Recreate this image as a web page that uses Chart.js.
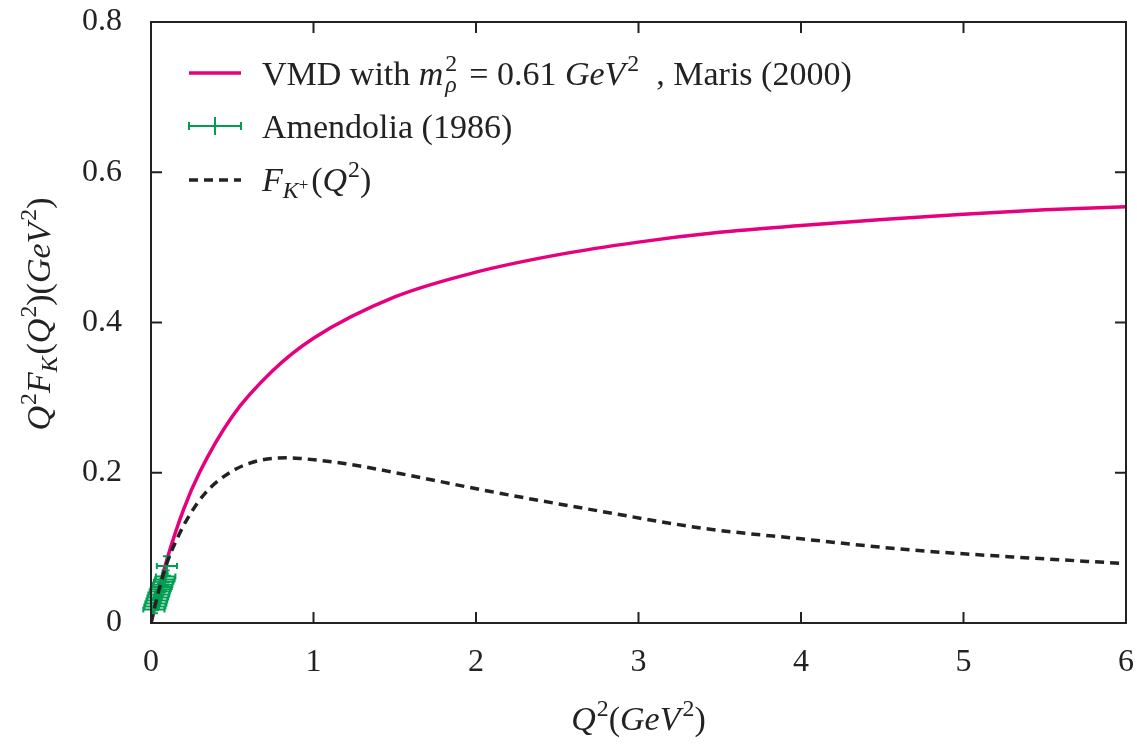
<!DOCTYPE html>
<html>
<head>
<meta charset="utf-8">
<script src="https://cdn.jsdelivr.net/npm/chart.js@4.4.1/dist/chart.umd.min.js"></script>
<style>
  html, body { margin: 0; padding: 0; background: #fff; }
  #wrap { width: 1137px; height: 745px; position: relative; }
</style>
</head>
<body>
<div id="wrap"><canvas id="kaonChart"></canvas></div>
<script>
// tick labels
var xTicks = [0, 1, 2, 3, 4, 5, 6];
var yTicks = [0, 0.2, 0.4, 0.6, 0.8];

// VMD curve, m_rho^2 = 0.61 GeV^2
var vmdQ2  = [0, 0.05, 0.1, 0.2, 0.3, 0.5, 0.75, 1, 1.5, 2, 2.5, 3, 3.5, 4, 4.5, 5, 5.5, 6];
var vmdVal = [0, 0.046, 0.086, 0.151, 0.201, 0.275, 0.336, 0.379, 0.434, 0.467, 0.490, 0.507, 0.520, 0.529, 0.537, 0.544, 0.550, 0.554];

// F_K+ curve (dashed)
var fkQ2  = [0, 0.05, 0.1, 0.16, 0.23, 0.33, 0.49, 0.66, 0.84, 0.92, 1.2, 1.53, 2.09, 2.76, 3.4, 4.0, 4.69, 5.3, 6];
var fkVal = [0, 0.045, 0.081, 0.112, 0.141, 0.172, 0.201, 0.216, 0.220, 0.219, 0.212, 0.199, 0.175, 0.149, 0.126, 0.112, 0.097, 0.088, 0.079];

// Amendolia (1986) points with errors
var amQ2     = [0.098, 0.090, 0.085, 0.078, 0.072, 0.066, 0.060, 0.054, 0.048, 0.042, 0.036, 0.030, 0.024, 0.018];
var amVal    = [0.076, 0.062, 0.058, 0.055, 0.051, 0.048, 0.045, 0.042, 0.038, 0.034, 0.030, 0.026, 0.022, 0.018];
var amQ2Err  = [0.062, 0.060, 0.060, 0.060, 0.060, 0.062, 0.062, 0.062, 0.064, 0.064, 0.064, 0.065, 0.065, 0.065];
var amValErr = [0.013, 0.008, 0.008, 0.007, 0.007, 0.007, 0.007, 0.006, 0.006, 0.006, 0.006, 0.006, 0.005, 0.005];

var pink = '#e6007e';
var green = '#009e52';
var ink = '#222222';
var serif = "'Liberation Serif', 'Times New Roman', serif";
var fontSize = 32;
var textSize = 34;

function pts(xs, ys) {
  var out = [];
  for (var i = 0; i < xs.length; i++) out.push({x: xs[i], y: ys[i]});
  return out;
}

// draw text pieces with italics, superscripts and subscripts
function richWidth(ctx, parts, size) {
  var w = 0;
  parts.forEach(function(p) {
    var s = p.s ? size * (p.s == 'subsup' ? 0.5 : 0.7) : size;
    ctx.font = (p.i ? 'italic ' : '') + s + 'px ' + serif;
    if (!p.stack) w += ctx.measureText(p.t).width + (p.gap || 0);
  });
  return w;
}
function drawRich(ctx, parts, x, y, size, align) {
  var w = richWidth(ctx, parts, size);
  var cx = align == 'center' ? x - w / 2 : x;
  ctx.textAlign = 'left';
  ctx.textBaseline = 'alphabetic';
  parts.forEach(function(p) {
    var s = size, dy = 0;
    if (p.s == 'sup') { s = size * 0.7; dy = -size * 0.42; }
    if (p.s == 'sub') { s = size * 0.7; dy = size * 0.22; }
    if (p.s == 'subsup') { s = size * 0.5; dy = -size * 0.02; }
    ctx.font = (p.i ? 'italic ' : '') + s + 'px ' + serif;
    ctx.fillText(p.t, cx + (p.pre || 0), y + dy);
    if (!p.stack) cx += ctx.measureText(p.t).width + (p.gap || 0);
  });
}

function errBar(ctx, x1, y1, x2, y2, cap, vertical) {
  ctx.beginPath();
  ctx.moveTo(x1, y1); ctx.lineTo(x2, y2);
  if (vertical) {
    ctx.moveTo(x1 - cap, y1); ctx.lineTo(x1 + cap, y1);
    ctx.moveTo(x2 - cap, y2); ctx.lineTo(x2 + cap, y2);
  } else {
    ctx.moveTo(x1, y1 - cap); ctx.lineTo(x1, y1 + cap);
    ctx.moveTo(x2, y2 - cap); ctx.lineTo(x2, y2 + cap);
  }
  ctx.stroke();
}

var errorBarPlugin = {
  id: 'errorBars',
  afterDatasetDraw: function(chart, args) {
    if (args.index !== 1) return;
    var ctx = chart.ctx, xs = chart.scales.x, ys = chart.scales.y;
    ctx.save();
    ctx.strokeStyle = green;
    ctx.lineWidth = 2;
    for (var i = 0; i < amQ2.length; i++) {
      var px = xs.getPixelForValue(amQ2[i]);
      var py = ys.getPixelForValue(amVal[i]);
      errBar(ctx, xs.getPixelForValue(amQ2[i] - amQ2Err[i]), py,
                  xs.getPixelForValue(amQ2[i] + amQ2Err[i]), py, 3, false);
      errBar(ctx, px, ys.getPixelForValue(amVal[i] - amValErr[i]),
                  px, ys.getPixelForValue(amVal[i] + amValErr[i]), 4, true);
    }
    ctx.restore();
  }
};

var framePlugin = {
  id: 'frame',
  afterDraw: function(chart) {
    var ctx = chart.ctx, a = chart.chartArea;
    var xs = chart.scales.x, ys = chart.scales.y;
    var tl = 11;
    ctx.save();
    ctx.strokeStyle = ink;
    ctx.lineWidth = 2;
    ctx.strokeRect(a.left, a.top, a.right - a.left, a.bottom - a.top);
    ctx.beginPath();
    xTicks.forEach(function(v) {
      var px = xs.getPixelForValue(v);
      ctx.moveTo(px, a.bottom); ctx.lineTo(px, a.bottom - tl);
      ctx.moveTo(px, a.top); ctx.lineTo(px, a.top + tl);
    });
    yTicks.forEach(function(v) {
      var py = ys.getPixelForValue(v);
      ctx.moveTo(a.left, py); ctx.lineTo(a.left + tl, py);
      ctx.moveTo(a.right, py); ctx.lineTo(a.right - tl, py);
    });
    ctx.stroke();

    // legend
    var lx1 = 189, lx2 = 241, tx = 262;
    var rows = [73, 126, 180];
    ctx.lineWidth = 3.5;
    ctx.strokeStyle = pink;
    ctx.beginPath(); ctx.moveTo(lx1, rows[0]); ctx.lineTo(lx2, rows[0]); ctx.stroke();
    ctx.strokeStyle = green;
    ctx.lineWidth = 2;
    errBar(ctx, lx1, rows[1], lx2, rows[1], 4, false);
    ctx.beginPath(); ctx.moveTo(215, rows[1] - 9); ctx.lineTo(215, rows[1] + 9); ctx.stroke();
    ctx.strokeStyle = ink;
    ctx.lineWidth = 3.5;
    ctx.setLineDash([9, 6]);
    ctx.beginPath(); ctx.moveTo(lx1, rows[2]); ctx.lineTo(lx2, rows[2]); ctx.stroke();
    ctx.setLineDash([]);

    ctx.fillStyle = ink;
    drawRich(ctx, [
      {t: 'VMD with '}, {t: 'm', i: true, gap: 2}, {t: '2', s: 'sup', stack: true}, {t: 'ρ', i: true, s: 'sub', gap: 4},
      {t: ' = 0.61 '}, {t: 'GeV', i: true, gap: 2}, {t: '2', s: 'sup'}, {t: '  , Maris (2000)'}
    ], tx, 85, textSize, 'left');
    drawRich(ctx, [{t: 'Amendolia (1986)'}], tx, 138, textSize, 'left');
    drawRich(ctx, [
      {t: 'F', i: true}, {t: 'K', i: true, s: 'sub'}, {t: '+', s: 'subsup', gap: 3},
      {t: '('}, {t: 'Q', i: true, gap: 1}, {t: '2', s: 'sup'}, {t: ')'}
    ], tx, 191, textSize, 'left');

    // axis titles
    drawRich(ctx, [
      {t: 'Q', i: true, gap: 1}, {t: '2', s: 'sup'}, {t: '('}, {t: 'GeV', i: true, gap: 2}, {t: '2', s: 'sup'}, {t: ')'}
    ], (a.left + a.right) / 2, 730, textSize, 'center');
    ctx.save();
    ctx.translate(50, 314);
    ctx.rotate(-Math.PI / 2);
    drawRich(ctx, [
      {t: 'Q', i: true, gap: 1}, {t: '2', s: 'sup'}, {t: 'F', i: true}, {t: 'K', i: true, s: 'sub', gap: 2},
      {t: '('}, {t: 'Q', i: true, gap: 1}, {t: '2', s: 'sup'}, {t: ')('}, {t: 'GeV', i: true, gap: 2}, {t: '2', s: 'sup'}, {t: ')'}
    ], 0, 0, textSize, 'center');
    ctx.restore();
    ctx.restore();
  }
};

Chart.defaults.font.family = serif;
Chart.defaults.color = ink;

new Chart(document.getElementById('kaonChart').getContext('2d'), {
  type: 'scatter',
  data: {
    datasets: [
      {
        label: 'VMD',
        data: pts(vmdQ2, vmdVal),
        showLine: true,
        borderColor: pink,
        borderWidth: 3.5,
        pointRadius: 0,
        cubicInterpolationMode: 'monotone',
        order: 3
      },
      {
        label: 'Amendolia (1986)',
        data: pts(amQ2, amVal),
        showLine: false,
        pointRadius: 0,
        borderColor: green,
        order: 2
      },
      {
        label: 'F_K+',
        data: pts(fkQ2, fkVal),
        showLine: true,
        borderColor: ink,
        borderWidth: 3.5,
        borderDash: [9, 6],
        pointRadius: 0,
        cubicInterpolationMode: 'monotone',
        order: 1
      }
    ]
  },
  options: {
    responsive: true,
    maintainAspectRatio: false,
    animation: false,
    layout: { padding: { left: 0, right: 11, top: 22, bottom: 0 } },
    plugins: { legend: { display: false }, tooltip: { enabled: false } },
    scales: {
      x: {
        type: 'linear', min: 0, max: 6,
        grid: { display: false, drawTicks: false },
        border: { display: false },
        afterBuildTicks: function(s) { s.ticks = xTicks.map(function(v) { return {value: v}; }); },
        afterFit: function(s) { s.height = 122; s.paddingLeft = 0; s.paddingRight = 0; },
        ticks: { font: { size: fontSize }, padding: 20, maxRotation: 0,
                 callback: function(v) { return String(v); } }
      },
      y: {
        type: 'linear', min: 0, max: 0.8,
        grid: { display: false, drawTicks: false },
        border: { display: false },
        afterBuildTicks: function(s) { s.ticks = yTicks.map(function(v) { return {value: v}; }); },
        afterFit: function(s) { s.width = 151; s.paddingTop = 0; s.paddingBottom = 0; },
        ticks: { font: { size: fontSize }, padding: 29,
                 callback: function(v) { return v === 0 ? '0' : v.toFixed(1); } }
      }
    }
  },
  plugins: [errorBarPlugin, framePlugin]
});
</script>
</body>
</html>
